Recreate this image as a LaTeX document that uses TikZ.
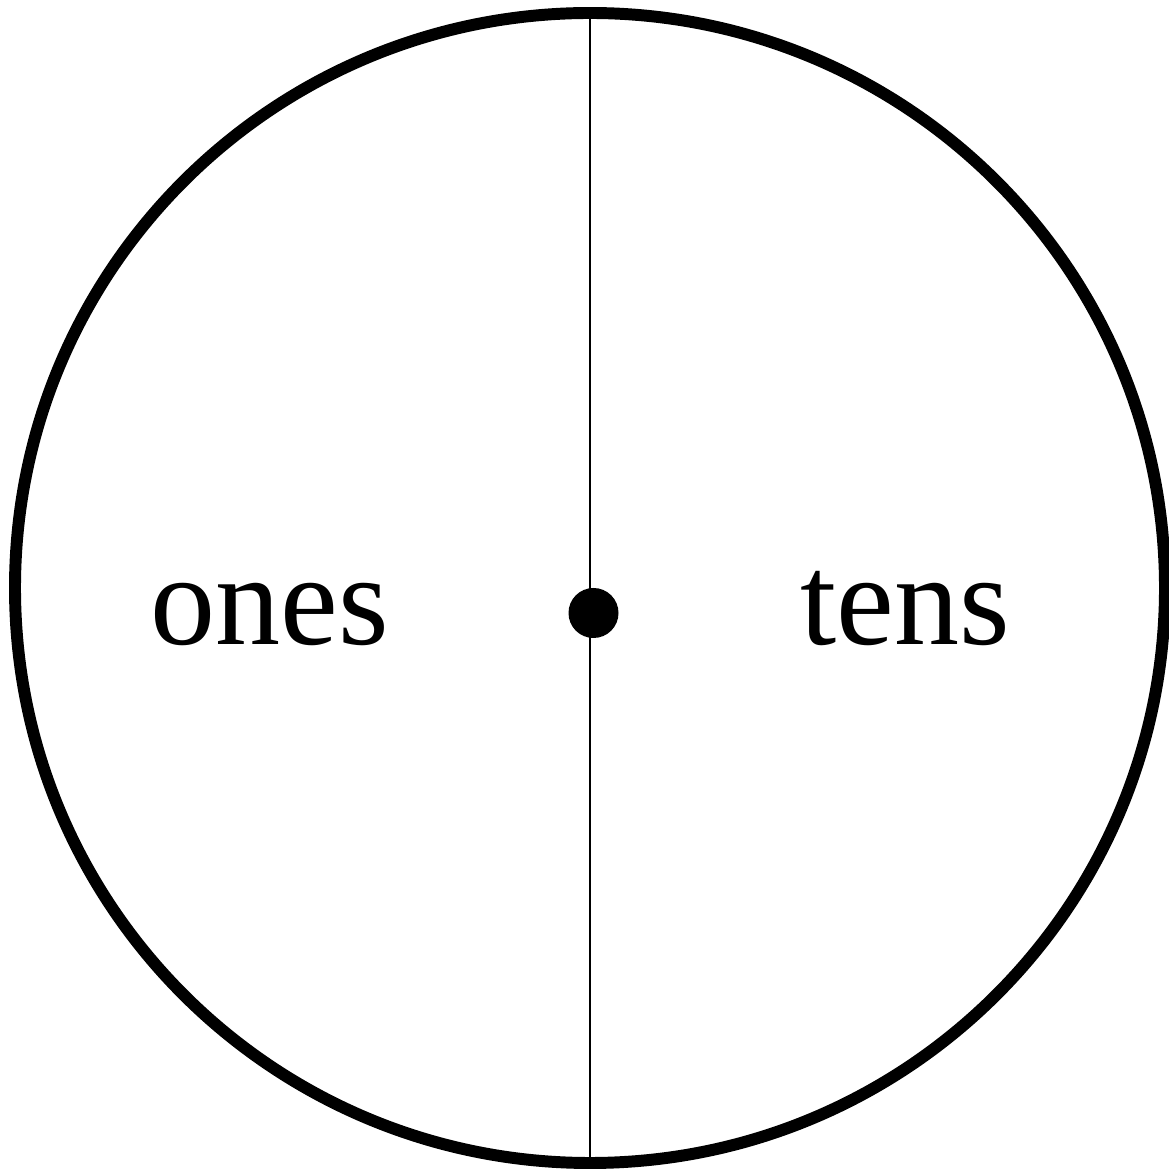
\documentclass[tikz,border=0pt]{standalone}
\usepackage{fontspec}
\setmainfont{Liberation Serif}
\usetikzlibrary{positioning}

\begin{document}
\begin{tikzpicture}[
		font=\fontsize{37}{44}\selectfont,
		rim/.style={draw, circle, line width=3.4pt, minimum size=11.5cm, inner sep=0pt, outer sep=0pt},
		hubdot/.style={circle, fill=black, minimum size=0.5cm, inner sep=0pt},
		lab/.style={anchor=base, inner sep=0pt}
		]
		
		% Page frame
		\useasboundingbox (0,0) rectangle (11.69,11.69);
		
		% Wheel
		\node[rim] (wheel) at (5.90,5.81) {};
		
		% Dividing line
		\draw[line width=0.6pt] (wheel.north) -- (wheel.south);
		
		% Centre dot
		\node[hubdot] (hub) at (5.935,5.56) {};
		
		% Labels
		\node[lab] (ones) at (2.70,5.24) {ones};
		\node[lab] (tens) at (9.05,5.24) {tens};
		
	\end{tikzpicture}
\end{document}
